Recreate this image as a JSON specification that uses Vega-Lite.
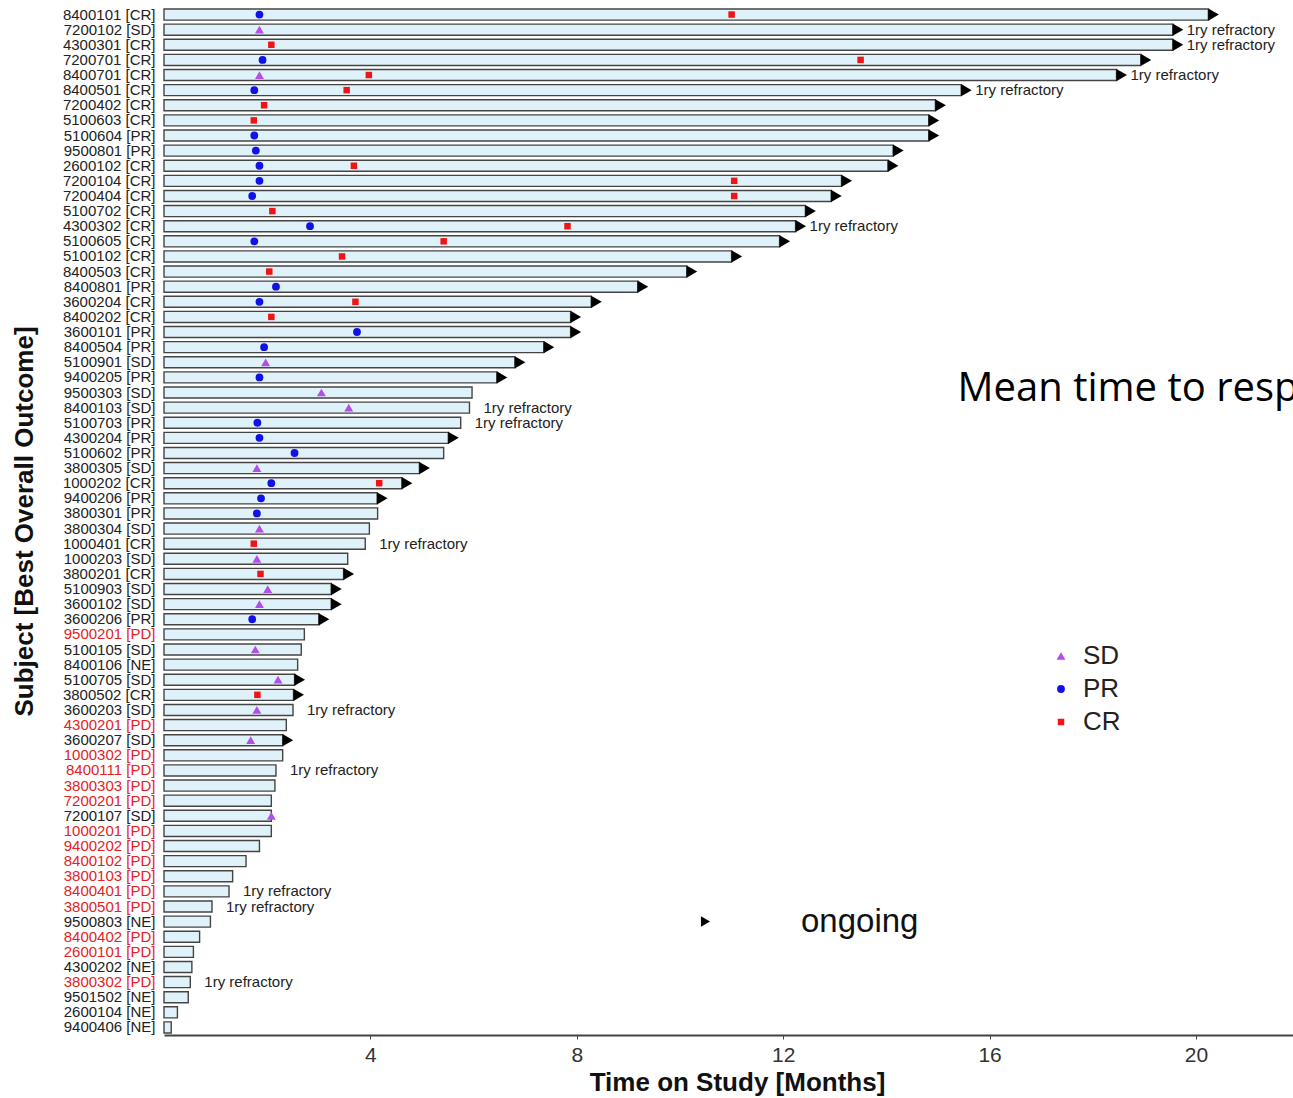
{
  "$schema": "https://vega.github.io/schema/vega-lite/v6.json",
  "autosize": {"type": "none"},
  "width": 1129,
  "height": 1028,
  "padding": {"left": 164, "top": 7, "right": 0, "bottom": 63},
  "background": "white",
  "config": {"view": {"stroke": null}, "font": "Liberation Sans"},
  "data": {"values": [
    {"s": "8400101 [CR]", "m": 20.24, "on": true, "ref": false, "PR": 1.85, "CR": 11.0},
    {"s": "7200102 [SD]", "m": 19.55, "on": true, "ref": true, "SD": 1.85},
    {"s": "4300301 [CR]", "m": 19.55, "on": true, "ref": true, "CR": 2.08},
    {"s": "7200701 [CR]", "m": 18.93, "on": true, "ref": false, "PR": 1.91, "CR": 13.5},
    {"s": "8400701 [CR]", "m": 18.46, "on": true, "ref": true, "SD": 1.85, "CR": 3.97},
    {"s": "8400501 [CR]", "m": 15.45, "on": true, "ref": true, "PR": 1.75, "CR": 3.54},
    {"s": "7200402 [CR]", "m": 14.95, "on": true, "ref": false, "CR": 1.94},
    {"s": "5100603 [CR]", "m": 14.82, "on": true, "ref": false, "CR": 1.74},
    {"s": "5100604 [PR]", "m": 14.82, "on": true, "ref": false, "PR": 1.75},
    {"s": "9500801 [PR]", "m": 14.13, "on": true, "ref": false, "PR": 1.78},
    {"s": "2600102 [CR]", "m": 14.03, "on": true, "ref": false, "PR": 1.85, "CR": 3.68},
    {"s": "7200104 [CR]", "m": 13.13, "on": true, "ref": false, "PR": 1.85, "CR": 11.05},
    {"s": "7200404 [CR]", "m": 12.93, "on": true, "ref": false, "PR": 1.71, "CR": 11.05},
    {"s": "5100702 [CR]", "m": 12.43, "on": true, "ref": false, "CR": 2.1},
    {"s": "4300302 [CR]", "m": 12.24, "on": true, "ref": true, "PR": 2.83, "CR": 7.82},
    {"s": "5100605 [CR]", "m": 11.93, "on": true, "ref": false, "PR": 1.75, "CR": 5.42},
    {"s": "5100102 [CR]", "m": 11.0, "on": true, "ref": false, "CR": 3.45},
    {"s": "8400503 [CR]", "m": 10.13, "on": true, "ref": false, "CR": 2.04},
    {"s": "8400801 [PR]", "m": 9.18, "on": true, "ref": false, "PR": 2.17},
    {"s": "3600204 [CR]", "m": 8.28, "on": true, "ref": false, "PR": 1.85, "CR": 3.71},
    {"s": "8400202 [CR]", "m": 7.88, "on": true, "ref": false, "CR": 2.08},
    {"s": "3600101 [PR]", "m": 7.88, "on": true, "ref": false, "PR": 3.74},
    {"s": "8400504 [PR]", "m": 7.36, "on": true, "ref": false, "PR": 1.94},
    {"s": "5100901 [SD]", "m": 6.8, "on": true, "ref": false, "SD": 1.97},
    {"s": "9400205 [PR]", "m": 6.45, "on": true, "ref": false, "PR": 1.85},
    {"s": "9500303 [SD]", "m": 5.97, "on": false, "ref": false, "SD": 3.05},
    {"s": "8400103 [SD]", "m": 5.92, "on": false, "ref": true, "SD": 3.58},
    {"s": "5100703 [PR]", "m": 5.75, "on": false, "ref": true, "PR": 1.81},
    {"s": "4300204 [PR]", "m": 5.51, "on": true, "ref": false, "PR": 1.85},
    {"s": "5100602 [PR]", "m": 5.42, "on": false, "ref": false, "PR": 2.53},
    {"s": "3800305 [SD]", "m": 4.95, "on": true, "ref": false, "SD": 1.8},
    {"s": "1000202 [CR]", "m": 4.61, "on": true, "ref": false, "PR": 2.08, "CR": 4.17},
    {"s": "9400206 [PR]", "m": 4.13, "on": true, "ref": false, "PR": 1.88},
    {"s": "3800301 [PR]", "m": 4.14, "on": false, "ref": false, "PR": 1.8},
    {"s": "3800304 [SD]", "m": 3.98, "on": false, "ref": false, "SD": 1.85},
    {"s": "1000401 [CR]", "m": 3.9, "on": false, "ref": true, "CR": 1.74},
    {"s": "1000203 [SD]", "m": 3.56, "on": false, "ref": false, "SD": 1.8},
    {"s": "3800201 [CR]", "m": 3.48, "on": true, "ref": false, "CR": 1.87},
    {"s": "5100903 [SD]", "m": 3.24, "on": true, "ref": false, "SD": 2.01},
    {"s": "3600102 [SD]", "m": 3.24, "on": true, "ref": false, "SD": 1.85},
    {"s": "3600206 [PR]", "m": 3.0, "on": true, "ref": false, "PR": 1.71},
    {"s": "9500201 [PD]", "m": 2.72, "on": false, "ref": false},
    {"s": "5100105 [SD]", "m": 2.66, "on": false, "ref": false, "SD": 1.77},
    {"s": "8400106 [NE]", "m": 2.59, "on": false, "ref": false},
    {"s": "5100705 [SD]", "m": 2.53, "on": true, "ref": false, "SD": 2.21},
    {"s": "3800502 [CR]", "m": 2.51, "on": true, "ref": false, "CR": 1.81},
    {"s": "3600203 [SD]", "m": 2.5, "on": false, "ref": true, "SD": 1.8},
    {"s": "4300201 [PD]", "m": 2.37, "on": false, "ref": false},
    {"s": "3600207 [SD]", "m": 2.3, "on": true, "ref": false, "SD": 1.68},
    {"s": "1000302 [PD]", "m": 2.3, "on": false, "ref": false},
    {"s": "8400111 [PD]", "m": 2.17, "on": false, "ref": true},
    {"s": "3800303 [PD]", "m": 2.15, "on": false, "ref": false},
    {"s": "7200201 [PD]", "m": 2.08, "on": false, "ref": false},
    {"s": "7200107 [SD]", "m": 2.08, "on": false, "ref": false, "SD": 2.08},
    {"s": "1000201 [PD]", "m": 2.08, "on": false, "ref": false},
    {"s": "9400202 [PD]", "m": 1.85, "on": false, "ref": false},
    {"s": "8400102 [PD]", "m": 1.59, "on": false, "ref": false},
    {"s": "3800103 [PD]", "m": 1.33, "on": false, "ref": false},
    {"s": "8400401 [PD]", "m": 1.26, "on": false, "ref": true},
    {"s": "3800501 [PD]", "m": 0.93, "on": false, "ref": true},
    {"s": "9500803 [NE]", "m": 0.9, "on": false, "ref": false},
    {"s": "8400402 [PD]", "m": 0.69, "on": false, "ref": false},
    {"s": "2600101 [PD]", "m": 0.57, "on": false, "ref": false},
    {"s": "4300202 [NE]", "m": 0.54, "on": false, "ref": false},
    {"s": "3800302 [PD]", "m": 0.51, "on": false, "ref": true},
    {"s": "9501502 [NE]", "m": 0.47, "on": false, "ref": false},
    {"s": "2600104 [NE]", "m": 0.26, "on": false, "ref": false},
    {"s": "9400406 [NE]", "m": 0.14, "on": false, "ref": false}
  ]},
  "encoding": {
    "y": {
      "field": "s", "type": "nominal", "sort": null,
      "scale": {"paddingInner": 0.27, "paddingOuter": 0.135},
      "axis": {
        "title": "Subject [Best Overall Outcome]",
        "titleFontSize": 26, "titleFontWeight": "bold", "titleColor": "#111",
        "titleX": -140, "titleY": 514, "titleAlign": "center", "titleBaseline": "middle", "titleAngle": -90,
        "labelFontSize": 15, "labelPadding": 9, "ticks": false, "domain": false,
        "labelColor": {"condition": {"test": "indexof(datum.label, '[PD]') >= 0", "value": "#e3231f"}, "value": "#222222"}
      }
    }
  },
  "layer": [
    {
      "mark": {"type": "bar", "fill": "#dff2f9", "stroke": "#444444", "strokeWidth": 1.4},
      "encoding": {
        "x": {"field": "m", "type": "quantitative",
          "scale": {"domain": [0, 21.88], "nice": false},
          "axis": {
            "title": "Time on Study [Months]", "values": [4, 8, 12, 16, 20],
            "titleFontSize": 26, "titleFontWeight": "bold", "titleColor": "#111", "titleX": 573,
            "titlePadding": 4,
            "labelFontSize": 21, "labelColor": "#333333", "labelPadding": 5,
            "tickSize": 4, "tickColor": "#444444", "domainColor": "#444444", "domainWidth": 2, "grid": false
          }
        }
      }
    },
    {
      "transform": [
        {"fold": ["SD", "PR", "CR"], "as": ["resp", "t"]},
        {"filter": "isValid(datum.t)"}
      ],
      "mark": {"type": "point", "filled": true, "opacity": 1},
      "encoding": {
        "x": {"field": "t", "type": "quantitative"},
        "color": {"field": "resp", "type": "nominal",
          "scale": {"domain": ["SD", "PR", "CR"], "range": ["#b54cec", "#1212e8", "#f01414"]},
          "legend": {"title": null, "orient": "none", "legendX": 884, "legendY": 636,
            "labelFontSize": 26, "labelColor": "#222222", "symbolSize": 32, "rowPadding": 7, "labelOffset": 9}},
        "shape": {"field": "resp", "type": "nominal",
          "scale": {"domain": ["SD", "PR", "CR"], "range": ["triangle-up", "circle", "square"]},
          "legend": {"title": null, "orient": "none", "legendX": 884, "legendY": 636,
            "labelFontSize": 26, "labelColor": "#222222", "symbolSize": 32, "rowPadding": 7, "labelOffset": 9}},
        "size": {"field": "resp", "type": "ordinal",
          "scale": {"domain": ["SD", "PR", "CR"], "range": [80, 42, 50]},
          "legend": null}
      }
    },
    {
      "transform": [{"filter": "datum.on"}],
      "mark": {"type": "point", "shape": "triangle-right", "filled": true, "size": 150, "color": "#000000", "xOffset": 5.2},
      "encoding": {
        "x": {"field": "m", "type": "quantitative"},
        "opacity": {"field": "on", "type": "nominal",
          "scale": {"range": [1]},
          "legend": {"title": null, "orient": "none", "legendX": 525, "legendY": 898, "labelExpr": "'ongoing'",
            "labelFontSize": 33, "labelColor": "#111111", "symbolType": "triangle-right", "symbolSize": 110, "symbolFillColor": "#000000", "symbolStrokeWidth": 0, "symbolOpacity": 1, "labelOffset": 79}}
      }
    },
    {
      "transform": [{"filter": "datum.ref"}],
      "mark": {"type": "text", "text": "1ry refractory", "align": "left", "baseline": "middle", "dx": 14, "fontSize": 15, "color": "#222222"},
      "encoding": {
        "x": {"field": "m", "type": "quantitative"}
      }
    },
    {
      "data": {"values": [{"note": "Mean time to response", "s": "9500303 [SD]", "t": 15.38}]},
      "mark": {"type": "text", "align": "left", "baseline": "alphabetic", "dy": 8, "font": "Open Sans", "fontSize": 40, "color": "#000000", "clip": true},
      "encoding": {
        "x": {"field": "t", "type": "quantitative"},
        "text": {"field": "note"}
      }
    }
  ]
}
